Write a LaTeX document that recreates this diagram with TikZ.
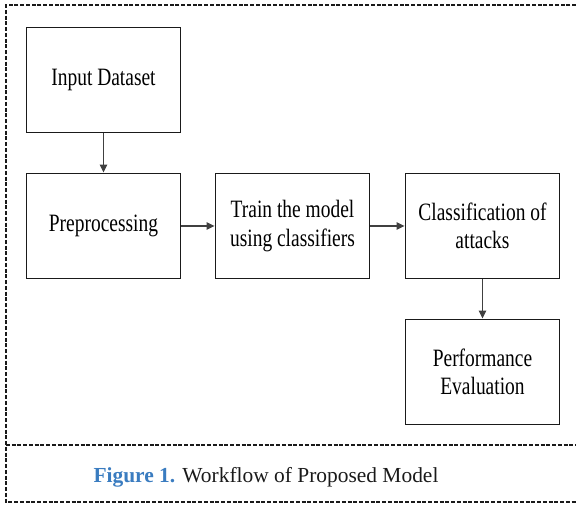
\documentclass[tikz,border=0pt]{standalone}
\usepackage{fontspec}
\usepackage{xcolor}
\usepackage{tikz}
\usetikzlibrary{arrows.meta}
\setmainfont{Liberation Serif}
\newfontfamily\boxfont[FakeStretch=0.78]{Liberation Serif}
\definecolor{CaptionBlue}{HTML}{3A7CC0}
\definecolor{Ink}{HTML}{1A1A1A}

\begin{document}
\begin{tikzpicture}[x=0.02cm,y=-0.02cm,
  frame/.style={draw=Ink,line width=1pt,dash pattern=on 0.08cm off 0.035cm},
  stage/.style={draw=Ink,line width=1.1pt,fill=white,minimum width=3.08cm,minimum height=2.1cm,align=center,font=\boxfont\fontsize{14.2}{16}\selectfont,inner sep=2pt},
  arr/.style={-{Triangle[length=1.6mm,width=1.5mm]},line width=0.6pt,draw=black!75}
]
\useasboundingbox (0,0) rectangle (576,506);
\draw[frame] (576,5) -- (6,5) -- (6,502) -- (576,502);
\draw[frame] (6,445) -- (576,445);

\node[stage] (input) at (103.5,80) {Input Dataset};
\node[stage] (prep) at (103.5,226) {Preprocessing};
\node[stage] (train) at (292.5,226) {Train the model\\using classifiers};
\node[stage] (classify) at (482.5,226) {Classification of\\attacks};
\node[stage] (perf) at (482.5,372) {Performance\\Evaluation};

\draw[arr] (input.south) -- (prep.north);
\draw[arr] (prep.east) -- (train.west);
\draw[arr] (train.east) -- (classify.west);
\draw[arr] (classify.south) -- (perf.north);

\node[anchor=base,font=\fontsize{12.2}{14}\selectfont,text=Ink] (caption) at (266,483)
  {\textcolor{CaptionBlue}{\bfseries Figure 1.} Workflow of Proposed Model};
\end{tikzpicture}
\end{document}
